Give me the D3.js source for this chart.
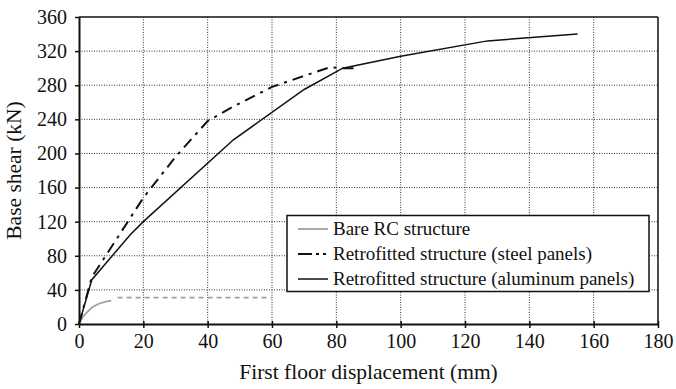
<!DOCTYPE html>
<html><head><meta charset="utf-8">
<script src="https://cdn.jsdelivr.net/npm/d3@7"></script>
<style>body{margin:0;background:#fff}svg{display:block}text{font-family:"Liberation Serif","Times New Roman",serif;fill:#111}</style>
</head><body><svg id="c" width="676" height="389"></svg>
<script>
// Data
const xTicks = [0,20,40,60,80,100,120,140,160,180];
const yTicks = [0,40,80,120,160,200,240,280,320,360];
const bareSolid = [[0,0],[1,7],[2,12],[4,19.5],[6,23.5],[8,26],[10,27.5]];
const bareDashed = [[12,31],[60,31]];
const steel = [[0,0],[4,55],[20,148],[30,196],[40,238],[48,255],[60,278],[70,291],[78,301],[82,300],[87,300]];
const aluminum = [[0,0],[4,52],[16,105],[20,120],[48,216],[70,275],[82,300],[100,314],[127,332],[155,340]];
const legendLabels = ["Bare RC structure","Retrofitted structure (steel panels)","Retrofitted structure (aluminum panels)"];
const xTitle = "First floor displacement (mm)";
const yTitle = "Base shear (kN)";

const svg = d3.select("#c");
const L=79, T=17, R=658, B=324;
const x = d3.scaleLinear().domain([0,180]).range([L,R]);
const y = d3.scaleLinear().domain([0,360]).range([B,T]);

// grid
const g = svg.append("g");
g.selectAll(".gx").data(xTicks.slice(1,-1)).join("line")
 .attr("x1",d=>x(d)).attr("x2",d=>x(d)).attr("y1",T).attr("y2",B)
 .attr("stroke","#333").attr("stroke-width",1).attr("stroke-dasharray","1,1.5");
g.selectAll(".gy").data(yTicks.slice(1,-1)).join("line")
 .attr("y1",d=>y(d)).attr("y2",d=>y(d)).attr("x1",L).attr("x2",R)
 .attr("stroke","#333").attr("stroke-width",1).attr("stroke-dasharray","1,1.5");

// frame top/right
svg.append("line").attr("x1",L).attr("x2",R).attr("y1",T).attr("y2",T).attr("stroke","#111").attr("stroke-width",1.5);
svg.append("line").attr("x1",R).attr("x2",R).attr("y1",T).attr("y2",B).attr("stroke","#111").attr("stroke-width",1.5);

// axes
const xa = svg.append("g").attr("transform",`translate(0,${B})`)
 .call(d3.axisBottom(x).tickValues(xTicks).tickSize(4).tickPadding(6).tickSizeOuter(0));
const ya = svg.append("g").attr("transform",`translate(${L},0)`)
 .call(d3.axisLeft(y).tickValues(yTicks).tickSize(4).tickPadding(8).tickSizeOuter(0));
[xa,ya].forEach(a=>{
  a.attr("font-family","Liberation Serif").attr("font-size",20);
  a.select(".domain").attr("stroke","#111").attr("stroke-width",2);
  a.selectAll(".tick line").attr("stroke","#111").attr("stroke-width",1.5);
  a.selectAll("text").attr("font-family","Liberation Serif").attr("font-size",20).attr("fill","#111");
});
xa.selectAll(".tick line").attr("y1",-3);
xa.selectAll("text").attr("dy","0.71em");

// lines
const line = d3.line().x(d=>x(d[0])).y(d=>y(d[1]));
svg.append("path").datum(bareSolid).attr("d",line).attr("fill","none").attr("stroke","#a0a0a0").attr("stroke-width",1.8);
svg.append("path").datum(bareDashed).attr("d",line).attr("fill","none").attr("stroke","#a0a0a0").attr("stroke-width",1.8).attr("stroke-dasharray","5,4");
svg.append("path").datum(aluminum).attr("d",line).attr("fill","none").attr("stroke","#111").attr("stroke-width",1.5);
svg.append("path").datum(steel).attr("d",line).attr("fill","none").attr("stroke","#111").attr("stroke-width",2).attr("stroke-dasharray","11,6,3,6");

// legend
const lg = svg.append("g");
lg.append("rect").attr("x",287).attr("y",215.5).attr("width",362).attr("height",76)
 .attr("fill","#fff").attr("stroke","#111").attr("stroke-width",1.5);
const styles = [
 {stroke:"#a0a0a0",w:1.8,dash:null},
 {stroke:"#111",w:2.2,dash:"14,4,3,4,3,4"},
 {stroke:"#111",w:1.5,dash:null}];
legendLabels.forEach((t,i)=>{
  const cy = 229 + i*25;
  lg.append("line").attr("x1",298).attr("x2",328).attr("y1",cy).attr("y2",cy)
   .attr("stroke",styles[i].stroke).attr("stroke-width",styles[i].w).attr("stroke-dasharray",styles[i].dash);
  lg.append("text").attr("x",333).attr("y",cy+6).style("font-size","19px").text(t);
});

// titles
svg.append("text").attr("x",(L+R)/2).attr("y",379).attr("text-anchor","middle").style("font-size","21.5px").text(xTitle);
svg.append("text").attr("transform",`translate(21,${(T+B)/2}) rotate(-90)`).attr("text-anchor","middle").style("font-size","21.5px").text(yTitle);
</script></body></html>
